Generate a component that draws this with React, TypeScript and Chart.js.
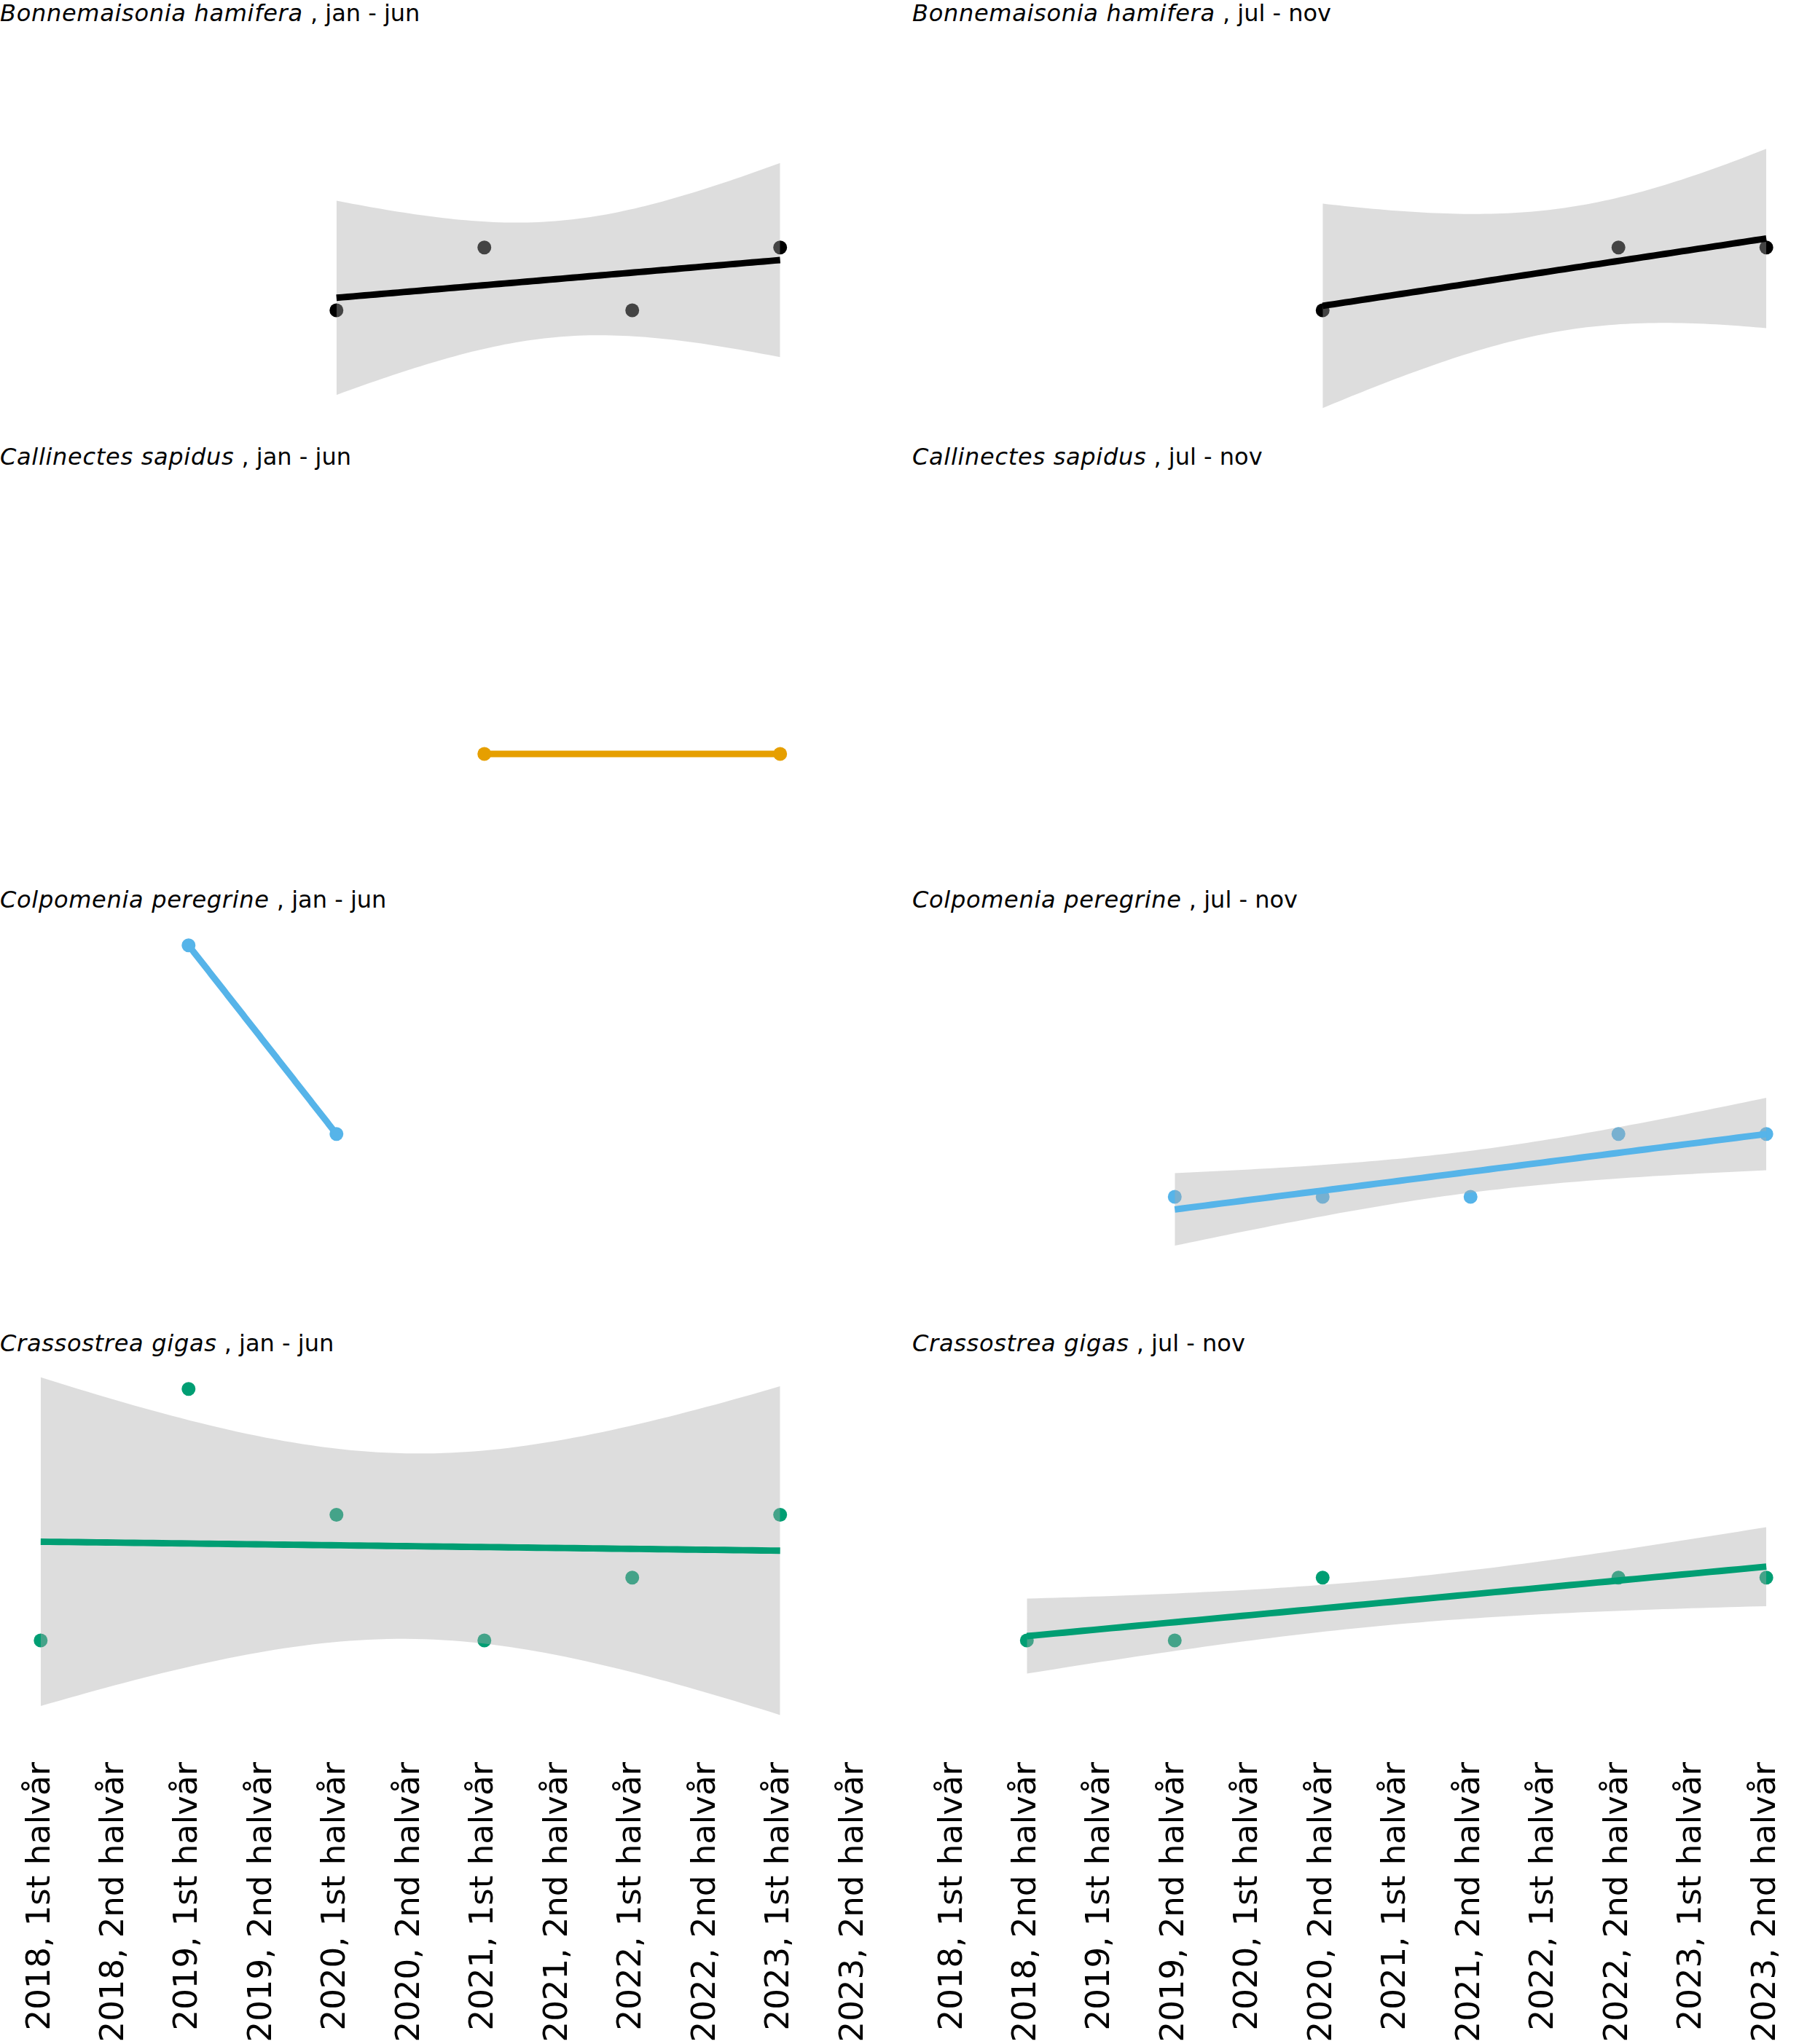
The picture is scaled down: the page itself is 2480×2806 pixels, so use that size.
import React, { useEffect, useRef } from "react";
import { Chart, registerables } from "chart.js";

Chart.register(...registerables);

// ---------- data ----------
const periods = [
  "2018, 1st halvår",
  "2018, 2nd halvår",
  "2019, 1st halvår",
  "2019, 2nd halvår",
  "2020, 1st halvår",
  "2020, 2nd halvår",
  "2021, 1st halvår",
  "2021, 2nd halvår",
  "2022, 1st halvår",
  "2022, 2nd halvår",
  "2023, 1st halvår",
  "2023, 2nd halvår",
];

const species = [
  "Bonnemaisonia hamifera",
  "Callinectes sapidus",
  "Colpomenia peregrine",
  "Crassostrea gigas",
];

const seasons = ["jan - jun", "jul - nov"];

const speciesColors = ["#000000", "#E69F00", "#56B4E9", "#009E73"];

// observed counts per period (null = no observation)
const bonnemaisoniaJanJun = [null, null, null, null, 1, null, 2, null, 1, null, 2, null];
const bonnemaisoniaJulNov = [null, null, null, null, null, 1, null, null, null, 2, null, 2];
const callinectesJanJun = [null, null, null, null, null, null, 1, null, null, null, 1, null];
const callinectesJulNov = [null, null, null, null, null, null, null, null, null, null, null, null];
const colpomeniaJanJun = [null, null, 5, null, 2, null, null, null, null, null, null, null];
const colpomeniaJulNov = [null, null, null, 1, null, 1, null, 1, null, 2, null, 2];
const crassostreaJanJun = [1, null, 5, null, 3, null, 1, null, 2, null, 3, null];
const crassostreaJulNov = [null, 1, null, 1, null, 2, null, null, null, 2, null, 2];

const panelSeries: (number | null)[][][] = [
  [bonnemaisoniaJanJun, bonnemaisoniaJulNov],
  [callinectesJanJun, callinectesJulNov],
  [colpomeniaJanJun, colpomeniaJulNov],
  [crassostreaJanJun, crassostreaJulNov],
];

// Student t quantiles (0.95) by degrees of freedom -> 90% confidence band
const tQuantile95 = [NaN, 6.313752, 2.919986, 2.353363, 2.131847, 2.015048, 1.94318];
const smoothSteps = 80;

// ---------- geometry ----------
const PAGE_W = 2480;
const PAGE_H = 2806;
const PANEL_W = 1228;
const RIGHT_X = 1252;
const STRIP_H = 40;
const PANEL_H = 545;
const ROW_PITCH = 608.6;
const RIBBON = "rgba(170,170,170,0.4)";
const LINE_W = 8.9;
const POINT_R = 9.5;

type Pt = { x: number; y: number };

function toPoints(values: (number | null)[]): Pt[] {
  const out: Pt[] = [];
  values.forEach((v, i) => {
    if (v !== null && v !== undefined) out.push({ x: i, y: v });
  });
  return out;
}

function fitLm(values: (number | null)[]) {
  const pts = toPoints(values);
  const n = pts.length;
  if (n < 2) return null;
  const xbar = pts.reduce((s, p) => s + p.x, 0) / n;
  const ybar = pts.reduce((s, p) => s + p.y, 0) / n;
  let sxx = 0;
  let sxy = 0;
  pts.forEach((p) => {
    sxx += (p.x - xbar) * (p.x - xbar);
    sxy += (p.x - xbar) * (p.y - ybar);
  });
  const slope = sxy / sxx;
  const icpt = ybar - slope * xbar;
  const xmin = pts[0].x;
  const xmax = pts[n - 1].x;
  const xs: number[] = [];
  for (let k = 0; k < smoothSteps; k++) xs.push(xmin + ((xmax - xmin) * k) / (smoothSteps - 1));
  const line = xs.map((x) => ({ x, y: icpt + slope * x }));
  if (n < 3) return { line, upper: null as Pt[] | null, lower: null as Pt[] | null };
  let sse = 0;
  pts.forEach((p) => {
    const r = p.y - (icpt + slope * p.x);
    sse += r * r;
  });
  const s = Math.sqrt(sse / (n - 2));
  const t = tQuantile95[n - 2];
  const half = (x: number) => t * s * Math.sqrt(1 / n + ((x - xbar) * (x - xbar)) / sxx);
  const upper = xs.map((x) => ({ x, y: icpt + slope * x + half(x) }));
  const lower = xs.map((x) => ({ x, y: icpt + slope * x - half(x) }));
  return { line, upper, lower };
}

function globalYRange() {
  let lo = Infinity;
  let hi = -Infinity;
  const take = (arr: Pt[] | null) => {
    if (!arr) return;
    arr.forEach((p) => {
      lo = Math.min(lo, p.y);
      hi = Math.max(hi, p.y);
    });
  };
  panelSeries.forEach((row) =>
    row.forEach((vals) => {
      take(toPoints(vals));
      const f = fitLm(vals);
      if (f) {
        take(f.line);
        take(f.upper);
        take(f.lower);
      }
    })
  );
  const pad = (hi - lo) * 0.05;
  return [lo - pad, hi + pad];
}

const xSpan = periods.length - 1;
const X_MIN = -0.05 * xSpan;
const X_MAX = xSpan + 0.05 * xSpan;

function Panel(props: {
  values: (number | null)[];
  color: string;
  yMin: number;
  yMax: number;
  showAxis: boolean;
  width: number;
  height: number;
  left: number;
  top: number;
}) {
  const { values, color, yMin, yMax, showAxis, width, height, left, top } = props;
  const ref = useRef<HTMLCanvasElement | null>(null);

  useEffect(() => {
    if (!ref.current) return;
    const fit = fitLm(values);
    const datasets: any[] = [];
    if (fit) {
      datasets.push({
        data: fit.line,
        borderColor: color,
        borderWidth: LINE_W,
        pointRadius: 0,
        fill: false,
        tension: 0,
        order: 1,
        clip: false,
      });
      if (fit.upper && fit.lower) {
        datasets.push({
          data: fit.upper,
          borderColor: "transparent",
          borderWidth: 0,
          pointRadius: 0,
          fill: "+1",
          backgroundColor: RIBBON,
          tension: 0,
          order: 2,
          clip: false,
        });
        datasets.push({
          data: fit.lower,
          borderColor: "transparent",
          borderWidth: 0,
          pointRadius: 0,
          fill: false,
          tension: 0,
          order: 2,
          clip: false,
        });
      }
    }
    datasets.push({
      data: toPoints(values),
      showLine: false,
      pointRadius: POINT_R,
      pointBackgroundColor: color,
      pointBorderColor: color,
      pointBorderWidth: 0,
      order: 3,
      clip: false,
    });

    const axisH = height - PANEL_H;
    const chart = new Chart(ref.current, {
      type: "line",
      data: { datasets },
      options: {
        responsive: false,
        maintainAspectRatio: false,
        animation: false,
        events: [],
        layout: { padding: 0, autoPadding: false },
        plugins: { legend: { display: false }, tooltip: { enabled: false }, title: { display: false } },
        scales: {
          x: {
            type: "linear",
            min: X_MIN,
            max: X_MAX,
            display: showAxis,
            grid: { display: false, drawTicks: false },
            border: { display: false },
            afterBuildTicks: (s: any) => {
              s.ticks = periods.map((_, i) => ({ value: i }));
            },
            afterFit: (s: any) => {
              if (showAxis) {
                s.height = axisH;
                s.paddingLeft = 0;
                s.paddingRight = 0;
              }
            },
            ticks: {
              autoSkip: false,
              minRotation: 90,
              maxRotation: 90,
              padding: 8,
              color: "#000000",
              font: { family: "'DejaVu Sans'", size: 45 },
              callback: (v: any) => periods[Math.round(Number(v))],
            },
          },
          y: {
            type: "linear",
            min: yMin,
            max: yMax,
            display: false,
          },
        },
      } as any,
    });
    return () => chart.destroy();
  }, [values, color, yMin, yMax, showAxis, width, height]);

  return (
    <canvas
      ref={ref}
      width={width}
      height={height}
      style={{ position: "absolute", left, top, width, height, display: "block" }}
    />
  );
}

export default function App() {
  const [yMin, yMax] = globalYRange();
  const items: React.ReactNode[] = [];
  panelSeries.forEach((row, r) => {
    const stripTop = Math.round(r * ROW_PITCH);
    const panelTop = Math.round(r * ROW_PITCH + STRIP_H);
    const last = r === panelSeries.length - 1;
    const h = last ? PAGE_H - panelTop : PANEL_H;
    row.forEach((vals, c) => {
      const left = c === 0 ? 0 : RIGHT_X;
      items.push(
        <div
          key={`t${r}${c}`}
          style={{
            position: "absolute",
            left,
            top: stripTop - 2,
            height: STRIP_H,
            lineHeight: `${STRIP_H}px`,
            fontFamily: "'DejaVu Sans'",
            fontSize: 32,
            color: "#000000",
            whiteSpace: "nowrap",
          }}
        >
          <i style={{ letterSpacing: "0.7px" }}>{species[r]}</i>
          {" , " + seasons[c]}
        </div>
      );
      items.push(
        <Panel
          key={`p${r}${c}`}
          values={vals}
          color={speciesColors[r]}
          yMin={yMin}
          yMax={yMax}
          showAxis={last}
          width={PANEL_W}
          height={h}
          left={left}
          top={panelTop}
        />
      );
    });
  });
  return (
    <div
      style={{
        position: "absolute",
        left: 0,
        top: 0,
        width: PAGE_W,
        height: PAGE_H,
        overflow: "hidden",
        background: "#ffffff",
      }}
    >
      {items}
    </div>
  );
}
